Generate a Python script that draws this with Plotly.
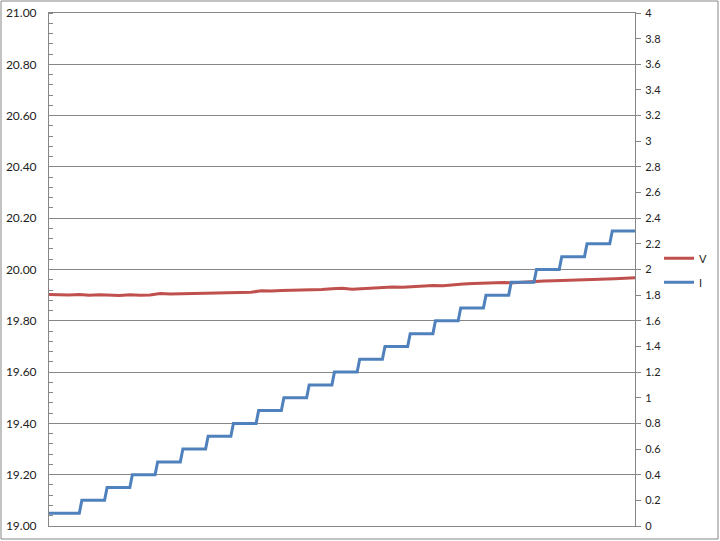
import plotly.graph_objects as go

# ---- data ----
# Current (I) staircase: level values and number of samples held at each level
i_levels = [0.1, 0.2, 0.3, 0.4, 0.5, 0.6, 0.7, 0.8, 0.9, 1.0, 1.1, 1.2,
            1.3, 1.4, 1.5, 1.6, 1.7, 1.8, 1.9, 2.0, 2.1, 2.2, 2.3]
i_counts = [13] + [10] * 21 + [10]

# Voltage (V) readings, one every 4 samples
v_sample_step = 4
v_values = [19.903, 19.902, 19.901, 19.903, 19.900, 19.902, 19.901, 19.899, 19.902, 19.900,
            19.901, 19.906, 19.904, 19.905, 19.906, 19.905, 19.908, 19.907, 19.910, 19.909,
            19.911, 19.917, 19.916, 19.918, 19.919, 19.921, 19.920, 19.922, 19.925, 19.927,
            19.923, 19.925, 19.929, 19.930, 19.932, 19.931, 19.934, 19.936, 19.938, 19.937,
            19.941, 19.943, 19.945, 19.947, 19.948, 19.949, 19.948, 19.951, 19.953, 19.955,
            19.956, 19.957, 19.958, 19.960, 19.961, 19.963, 19.964, 19.966, 19.968]

left_ticks = [19.0, 19.2, 19.4, 19.6, 19.8, 20.0, 20.2, 20.4, 20.6, 20.8, 21.0]
right_ticks = [0, 0.2, 0.4, 0.6, 0.8, 1, 1.2, 1.4, 1.6, 1.8, 2, 2.2, 2.4, 2.6,
               2.8, 3, 3.2, 3.4, 3.6, 3.8, 4]

# ---- build series ----
i_values = []
for lvl, n in zip(i_levels, i_counts):
    i_values += [lvl] * n
i_x = list(range(len(i_values)))
v_x = [k * v_sample_step for k in range(len(v_values))]

RED = "#C0504D"
BLUE = "#4F81BD"
GREY = "#868686"
FONT = "Lato"

fig = go.Figure()
fig.add_trace(go.Scatter(x=v_x, y=v_values, mode="lines", name="V",
                         line=dict(color=RED, width=3), yaxis="y", legend="legend",
                         showlegend=True))
fig.add_trace(go.Scatter(x=i_x, y=i_values, mode="lines", name="I",
                         line=dict(color=BLUE, width=3), yaxis="y2", legend="legend2",
                         showlegend=True))

fig.update_layout(
    width=720, height=541,
    margin=dict(l=49, r=85, t=13, b=15, autoexpand=False),
    paper_bgcolor="white", plot_bgcolor="white",
    font=dict(family=FONT, size=12, color="#222222"),
    xaxis=dict(range=[0, len(i_values) - 1], showticklabels=False, showgrid=False,
               zeroline=False, showline=True, linecolor=GREY, linewidth=1, mirror=True,
               ticks="", automargin=False),
    yaxis=dict(range=[19, 21], tickvals=left_ticks,
               ticktext=[f"{t:.2f}" for t in left_ticks],
               showgrid=True, gridcolor=GREY, gridwidth=1, zeroline=False,
               showline=True, linecolor=GREY, linewidth=1, ticks="",
               ticklabelstandoff=9, automargin=False,
               minor=dict(dtick=0.04, ticks="inside", ticklen=4, tickcolor=GREY,
                          showgrid=False)),
    yaxis2=dict(range=[0, 4], overlaying="y", side="right", tickvals=right_ticks,
                ticktext=[f"{t:g}" for t in right_ticks],
                showgrid=False, zeroline=False, showline=True, linecolor=GREY,
                linewidth=1, ticks="outside", ticklen=5, tickcolor=GREY,
                ticklabelstandoff=2,
                automargin=False, tickfont=dict(size=11)),
    showlegend=True,
    legend=dict(x=1.041, y=0.522, xanchor="left", yanchor="middle",
                bgcolor="rgba(0,0,0,0)", font=dict(size=11)),
    legend2=dict(x=1.041, y=0.475, xanchor="left", yanchor="middle",
                 bgcolor="rgba(0,0,0,0)", font=dict(size=11)),
    shapes=[dict(type="rect", xref="paper", yref="paper",
                 x0=(1 - 49) / 586, x1=(718 - 49) / 586,
                 y0=(526 - 539) / 513, y1=(526 - 1) / 513,
                 line=dict(color=GREY, width=1), fillcolor="rgba(0,0,0,0)",
                 layer="below")],
)

fig.write_html("out.html",
               config={"displayModeBar": False},
               post_script="document.body.style.margin='0px';")
